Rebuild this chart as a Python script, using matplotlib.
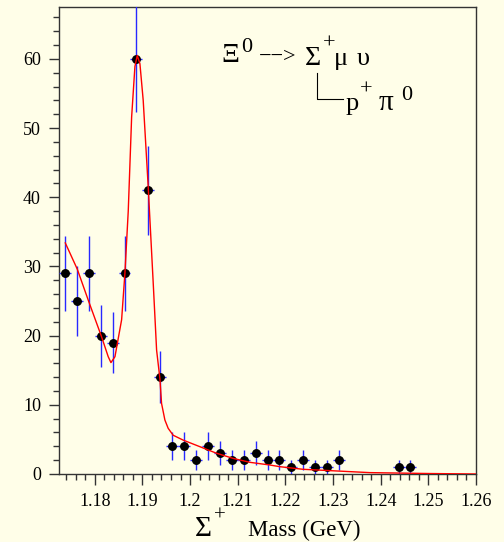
import numpy as np
import matplotlib
matplotlib.use("Agg")
import matplotlib.pyplot as plt
from matplotlib.ticker import MultipleLocator, FuncFormatter
from matplotlib.lines import Line2D

# histogram bins (non-empty only), bin width 0.0025 GeV
mass = [1.17375, 1.17625, 1.17875, 1.18125, 1.18375, 1.18625, 1.18875, 1.19125,
        1.19375, 1.19625, 1.19875, 1.20125, 1.20375, 1.20625, 1.20875, 1.21125,
        1.21375, 1.21625, 1.21875, 1.22125, 1.22375, 1.22625, 1.22875, 1.23125,
        1.24375, 1.24625]
counts = [29, 25, 29, 20, 19, 29, 60, 41,
          14, 4, 4, 2, 4, 3, 2, 2,
          3, 2, 2, 1, 2, 1, 1, 2,
          1, 1]
half_bin = 0.00125

# fitted curve
fit_x = [1.17382, 1.17634, 1.17865, 1.18145, 1.18283, 1.18340, 1.18424, 1.18564,
         1.18633, 1.18703, 1.18774, 1.18843, 1.18892, 1.18948, 1.19017, 1.19122,
         1.19227, 1.19298, 1.19367, 1.19402, 1.19472, 1.19541, 1.19646, 1.19855,
         1.20205, 1.20555, 1.20903, 1.21253, 1.21673, 1.21882, 1.22371, 1.23769,
         1.25000, 1.26000]
fit_y = [33.4, 29.6, 25.1, 19.8, 16.95, 16.1, 16.95, 22.3,
         29.0, 38.0, 51.6, 58.9, 60.5, 59.3, 54.0, 41.5,
         27.6, 17.9, 13.8, 10.2, 7.8, 6.6, 5.6, 4.9,
         3.95, 3.0, 2.26, 1.69, 1.3, 1.06, 0.68, 0.2,
         0.07, 0.0]

bg = "#fffee8"
W, H = 504, 542

plt.rcParams['font.family'] = ['Liberation Serif', 'DejaVu Serif']

fig = plt.figure(figsize=(W / 100, H / 100), dpi=100, facecolor=bg)
ax = fig.add_axes([59 / W, 1 - 474 / H, (476 - 59) / W, (474 - 7) / H])
ax.set_facecolor(bg)

err = np.sqrt(counts)
ax.errorbar(mass, counts, xerr=half_bin, yerr=err, fmt='o', color='black',
            ms=5.4, ecolor='#2828ff', elinewidth=1.0, capsize=0, zorder=3)
ax.plot(fit_x, fit_y, color='red', lw=1.0, zorder=4)

ax.set_xlim(1.1725, 1.26)
ax.set_ylim(0, 67.5)
ax.xaxis.set_major_locator(MultipleLocator(0.01))
ax.xaxis.set_minor_locator(MultipleLocator(0.002))
ax.yaxis.set_major_locator(MultipleLocator(10))
ax.yaxis.set_minor_locator(MultipleLocator(2))
ax.xaxis.set_major_formatter(FuncFormatter(lambda v, p: "%g" % round(v, 3)))
ax.tick_params(which='major', direction='out', length=8, width=1,
               labelsize=13, color='#333333', pad=6)
ax.tick_params(which='minor', direction='out', length=4, width=1, color='#333333')
ax.tick_params(axis='y', which='major', length=7)
for s in ax.spines.values():
    s.set_color('#333333')
    s.set_linewidth(1)


def ftext(x, y, s, size):
    fig.text(x / W, 1 - y / H, s, fontsize=size, ha='left', va='baseline')


# decay annotation
ftext(221, 62, "Ξ", 20)
ftext(241, 52, "0", 16)
ftext(259, 62, "−−>", 16)
ftext(305, 65, "Σ", 20)
ftext(323, 49, "+", 16)
ftext(334, 65, "μ", 19)
ftext(357, 65, "υ", 19)
fig.add_artist(Line2D([316.7 / W, 316.7 / W, 343 / W],
                      [1 - 73 / H, 1 - 99 / H, 1 - 99 / H], color='black', lw=0.8))
ftext(346, 110, "p", 19)
ftext(360, 95, "+", 16)
ftext(379, 110, "π", 21)
ftext(401, 100, "0", 16)

# x axis title
ftext(195, 536, "Σ", 21)
ftext(214, 521, "+", 15)
ftext(248, 536, "Mass (GeV)", 16.5)

fig.savefig("out.png", dpi=100, facecolor=bg)
